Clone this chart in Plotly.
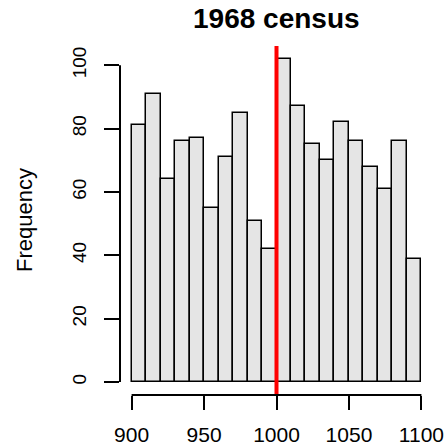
import plotly.graph_objects as go

# Histogram of the 1968 census counts, 10-wide bins from 900 to 1100
bin_start = 900
bin_width = 10
counts = [81, 91, 64, 76, 77, 55, 71, 85, 51, 42,
          102, 87, 75, 70, 82, 76, 68, 61, 76, 39]
x_ticks = [900, 950, 1000, 1050, 1100]
y_ticks = [0, 20, 40, 60, 80, 100]
marker_value = 1000
title_text = "1968 census"
y_title = "Frequency"

centers = [bin_start + bin_width * (i + 0.5) for i in range(len(counts))]
lo = bin_start
hi = bin_start + bin_width * len(counts)
xpad = (hi - lo) * 0.04
ymax = max(counts)
ypad = ymax * 0.04

FONT = "Liberation Sans, Arial, Helvetica, sans-serif"

fig = go.Figure()
fig.add_trace(go.Bar(
    x=centers, y=counts, width=bin_width,
    marker=dict(color="#e5e5e5", line=dict(color="black", width=1.5)),
    hoverinfo="x+y",
))

# vertical reference line at 1000
fig.add_shape(type="line", xref="x", yref="paper",
              x0=marker_value, x1=marker_value, y0=0, y1=1,
              line=dict(color="#ff0000", width=4))
# R-style axis lines spanning only the first to last tick
fig.add_shape(type="line", xref="x", yref="paper",
              x0=x_ticks[0], x1=x_ticks[-1], y0=0, y1=0,
              line=dict(color="black", width=2))
fig.add_shape(type="line", xref="paper", yref="y",
              x0=0, x1=0, y0=y_ticks[0], y1=y_ticks[-1],
              line=dict(color="black", width=2))

fig.add_annotation(text="<b>%s</b>" % title_text, xref="paper", yref="paper",
                   x=0.5, y=1.0, yshift=10, xanchor="center", yanchor="bottom",
                   showarrow=False, font=dict(family=FONT, size=28, color="black"))
fig.add_annotation(text=y_title, xref="paper", yref="paper",
                   x=-0.305, y=0.5, xanchor="center", yanchor="middle",
                   textangle=-90, showarrow=False,
                   font=dict(family=FONT, size=22, color="black"))

fig.update_layout(
    width=447, height=448,
    margin=dict(l=119.7, r=13.7, t=46.45, b=52.9, pad=0, autoexpand=False),
    paper_bgcolor="white", plot_bgcolor="white",
    showlegend=False, bargap=0,
    xaxis=dict(range=[lo - xpad, hi + xpad], tickvals=x_ticks,
               ticks="outside", ticklen=14, tickwidth=2, tickcolor="black",
               showline=False, showgrid=False, zeroline=False,
               automargin=False,
               tickfont=dict(family=FONT, size=21, color="black"),
               ticklabelstandoff=7),
    yaxis=dict(range=[-ypad, ymax + ypad], tickvals=y_ticks,
               ticks="outside", ticklen=15, tickwidth=2, tickcolor="black",
               showline=False, showgrid=False, zeroline=False,
               automargin=False, tickangle=-90,
               tickfont=dict(family=FONT, size=19, color="black"),
               ticklabelstandoff=10),
)

fig.write_html("out.html")
